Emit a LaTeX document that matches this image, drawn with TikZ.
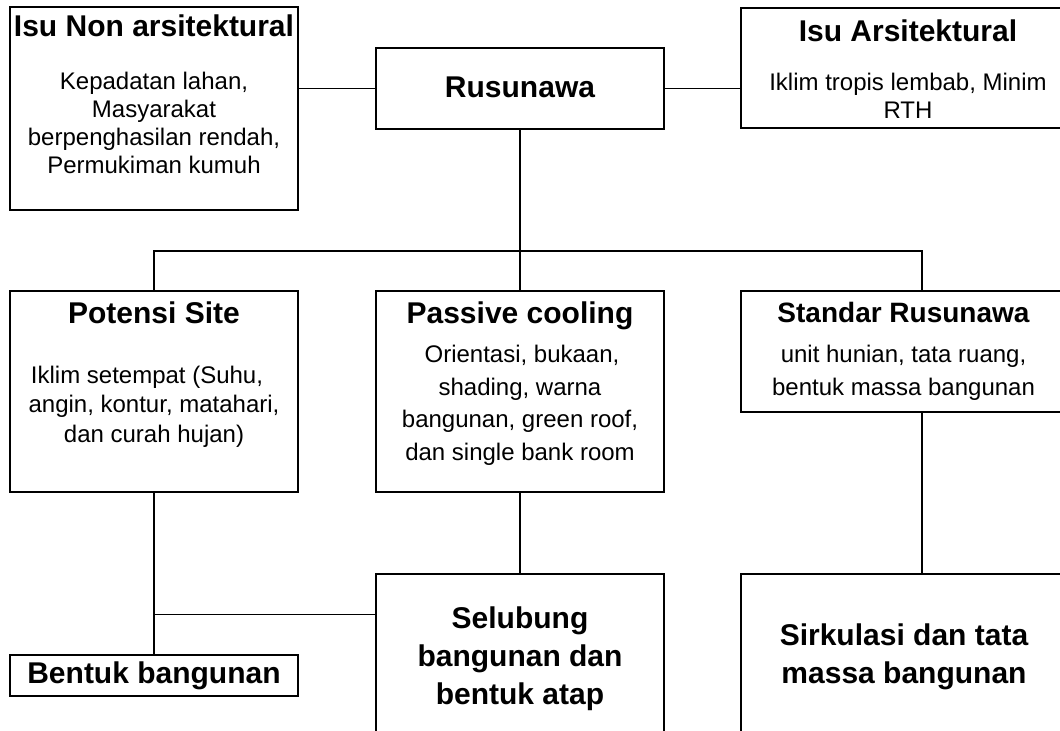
\documentclass[tikz,border=0pt]{standalone}
\usepackage{fontspec}
\setmainfont{Liberation Sans}
\begin{document}
\begin{tikzpicture}[x=0.75pt, y=-0.75pt,
  box/.style 2 args={draw, line width=1.5pt, minimum width=#1*0.75pt,
    minimum height=#2*0.75pt, inner sep=0pt, outer sep=0pt},
  link/.style={line width=1.3pt},
  ttl/.style={anchor=base, inner sep=0pt, font=\fontsize{22.5}{27}\selectfont\bfseries},
  ttlsm/.style={anchor=base, inner sep=0pt, font=\fontsize{21}{25}\selectfont\bfseries},
  txt/.style={anchor=base, inner sep=0pt, font=\fontsize{18}{21}\selectfont}]
\useasboundingbox (0,0) rectangle (1060,731);
\clip (0,0) rectangle (1060,731);

% boxes
\node[box={288}{202.5}] (isunon)  at (154,108.75) {};
\node[box={288}{81}]    (rusun)   at (520,88.5) {};
\node[box={334}{120}]   (isuars)  at (908,68) {};
\node[box={288}{201}]   (potensi) at (154,391.5) {};
\node[box={288}{201}]   (passive) at (520,391.5) {};
\node[box={326}{121}]   (standar) at (904,351.5) {};
\node[box={288}{41}]    (bentuk)  at (154,675.5) {};
\node[box={288}{206}]   (selubung) at (520,677) {};
\node[box={326}{206}]   (sirkul)  at (904,677) {};

% texts
\node[ttl] (isunonT) at (154,37) {Isu Non arsitektural};
\node[txt] (isunon1) at (154,89.5) {Kepadatan lahan,};
\node[txt] (isunon2) at (154,117.7) {Masyarakat};
\node[txt] (isunon3) at (154,146) {berpenghasilan rendah,};
\node[txt] (isunon4) at (154,174) {Permukiman kumuh};

\node[ttl] (rusunT) at (520,98) {Rusunawa};

\node[ttl] (isuarsT) at (908,41.7) {Isu Arsitektural};
\node[txt] (isuars1) at (908,90.5) {Iklim tropis lembab, Minim};
\node[txt] (isuars2) at (908,118.5) {RTH};

\node[ttl] (potensiT) at (154,323) {Potensi Site};
\node[txt] (potensi1) at (147,383) {Iklim setempat (Suhu,};
\node[txt] (potensi2) at (154,412.5) {angin, kontur, matahari,};
\node[txt] (potensi3) at (154,442) {dan curah hujan)};

\node[ttl] (passiveT) at (520,323) {Passive cooling};
\node[txt] (passive1) at (522,362.5) {Orientasi, bukaan,};
\node[txt] (passive2) at (520,395) {shading, warna};
\node[txt] (passive3) at (520,427.5) {bangunan, green roof,};
\node[txt] (passive4) at (520,460) {dan single bank room};

\node[ttlsm] (standarT) at (903.5,322) {Standar Rusunawa};
\node[txt] (standar1) at (903.5,362.7) {unit hunian, tata ruang,};
\node[txt] (standar2) at (903.5,395) {bentuk massa bangunan};

\node[ttl] (bentukT) at (154,683) {Bentuk bangunan};

\node[ttl] (selubung1) at (520,628) {Selubung};
\node[ttl] (selubung2) at (520,666) {bangunan dan};
\node[ttl] (selubung3) at (520,704) {bentuk atap};

\node[ttl] (sirkul1) at (904,645) {Sirkulasi dan tata};
\node[ttl] (sirkul2) at (904,683) {massa bangunan};

% connectors
\coordinate (bus) at (520,251);
\coordinate (rcol) at (922,251);
\coordinate (join) at (154,614.5);

\draw[link] (isunon.east |- rusun.west) -- (rusun.west);
\draw[link] (rusun.east) -- (isuars.west |- rusun.east);
\draw[link] (rusun.south) -- (passive.north);
\draw[link] (potensi.north) -- (potensi.north |- bus) -- (rcol) -- (rcol |- standar.north);
\draw[link] (standar.south -| rcol) -- (sirkul.north -| rcol);
\draw[link] (passive.south) -- (selubung.north);
\draw[link] (potensi.south) -- (bentuk.north);
\draw[link] (join) -- (join -| selubung.west);
\end{tikzpicture}
\end{document}
